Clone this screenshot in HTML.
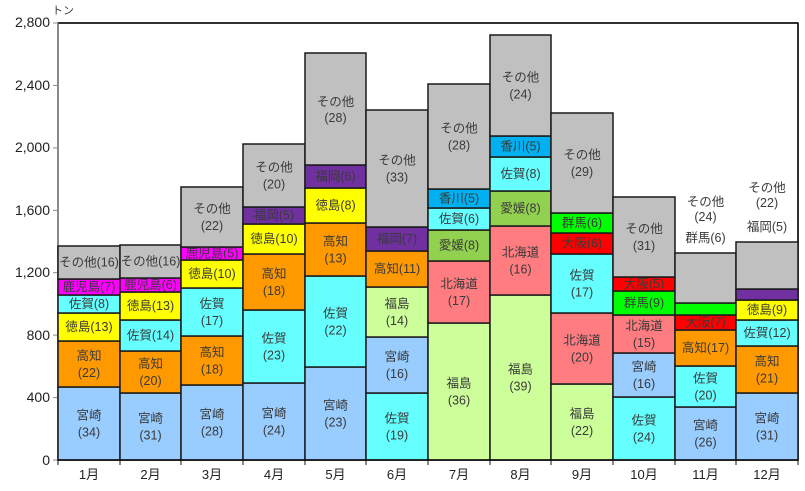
<!DOCTYPE html>
<html><head><meta charset="utf-8"><style>
html,body{margin:0;padding:0;background:#fff}
svg{display:block}
text{font-family:"Liberation Sans","Noto Sans CJK JP",sans-serif;font-size:12.5px;fill:#3a3a3a;text-anchor:middle}
.y{text-anchor:end;font-size:14px;fill:#222}
.x{font-size:13px;fill:#222}
rect{stroke:#1a1a1a;stroke-width:1.5}
</style></head><body>
<svg width="805" height="491" viewBox="0 0 805 491" xmlns="http://www.w3.org/2000/svg">
<rect x="58" y="23" width="740" height="437" fill="#fff" stroke="none"/>
<line x1="58" y1="23" x2="798" y2="23" stroke="#111" stroke-width="1.5"/>
<line x1="798" y1="23" x2="798" y2="460" stroke="#111" stroke-width="1.5"/>
<line x1="58" y1="23" x2="58" y2="460" stroke="#888" stroke-width="1"/>
<text x="52" y="14" style="text-anchor:start;font-size:11px">トン</text>
<g class="yl">
<text class="y" x="50" y="465">0</text>
<text class="y" x="50" y="402">400</text>
<text class="y" x="50" y="340">800</text>
<text class="y" x="50" y="277">1,200</text>
<text class="y" x="50" y="215">1,600</text>
<text class="y" x="50" y="152">2,000</text>
<text class="y" x="50" y="90">2,400</text>
<text class="y" x="50" y="27">2,800</text>
</g>
<g stroke="#888"><line x1="53" y1="460" x2="58" y2="460"/><line x1="53" y1="397.6" x2="58" y2="397.6"/><line x1="53" y1="335.1" x2="58" y2="335.1"/><line x1="53" y1="272.7" x2="58" y2="272.7"/><line x1="53" y1="210.3" x2="58" y2="210.3"/><line x1="53" y1="147.9" x2="58" y2="147.9"/><line x1="53" y1="85.4" x2="58" y2="85.4"/><line x1="53" y1="23" x2="58" y2="23"/></g>

<!-- M1 -->
<rect x="58" y="387" width="62" height="73" fill="#99CCFF"/>
<rect x="58" y="341" width="62" height="46" fill="#FF9900"/>
<rect x="58" y="313" width="62" height="28" fill="#FFFF00"/>
<rect x="58" y="295" width="62" height="18" fill="#66FFFF"/>
<rect x="58" y="279" width="62" height="16" fill="#FF00FF"/>
<rect x="58" y="246" width="62" height="33" fill="#C0C0C0"/>
<text x="89" y="419.5">宮崎</text><text x="89" y="436.5">(34)</text>
<text x="89" y="360">高知</text><text x="89" y="377">(22)</text>
<text x="89" y="331">徳島(13)</text>
<text x="89" y="308">佐賀(8)</text>
<text x="89" y="291">鹿児島(7)</text>
<text x="89" y="266.5">その他(16)</text>
<!-- M2 -->
<rect x="120" y="393" width="61" height="67" fill="#99CCFF"/>
<rect x="120" y="351" width="61" height="42" fill="#FF9900"/>
<rect x="120" y="320" width="61" height="31" fill="#66FFFF"/>
<rect x="120" y="292" width="61" height="28" fill="#FFFF00"/>
<rect x="120" y="278" width="61" height="14" fill="#FF00FF"/>
<rect x="120" y="245" width="61" height="33" fill="#C0C0C0"/>
<text x="150.5" y="422.5">宮崎</text><text x="150.5" y="439.5">(31)</text>
<text x="150.5" y="368">高知</text><text x="150.5" y="385">(20)</text>
<text x="150.5" y="339.5">佐賀(14)</text>
<text x="150.5" y="310">徳島(13)</text>
<text x="150.5" y="289">鹿児島(6)</text>
<text x="150.5" y="265.5">その他(16)</text>
<!-- M3 -->
<rect x="181" y="385" width="62" height="75" fill="#99CCFF"/>
<rect x="181" y="336" width="62" height="49" fill="#FF9900"/>
<rect x="181" y="288" width="62" height="48" fill="#66FFFF"/>
<rect x="181" y="260" width="62" height="28" fill="#FFFF00"/>
<rect x="181" y="247" width="62" height="13" fill="#FF00FF"/>
<rect x="181" y="187" width="62" height="60" fill="#C0C0C0"/>
<text x="212" y="418.5">宮崎</text><text x="212" y="435.5">(28)</text>
<text x="212" y="356.5">高知</text><text x="212" y="373.5">(18)</text>
<text x="212" y="308">佐賀</text><text x="212" y="325">(17)</text>
<text x="212" y="278">徳島(10)</text>
<text x="212" y="257.5">鹿児島(5)</text>
<text x="212" y="213">その他</text><text x="212" y="230">(22)</text>
<!-- M4 -->
<rect x="243" y="383" width="62" height="77" fill="#99CCFF"/>
<rect x="243" y="310" width="62" height="73" fill="#66FFFF"/>
<rect x="243" y="254" width="62" height="56" fill="#FF9900"/>
<rect x="243" y="224" width="62" height="30" fill="#FFFF00"/>
<rect x="243" y="207" width="62" height="17" fill="#7030A0"/>
<rect x="243" y="144" width="62" height="63" fill="#C0C0C0"/>
<text x="274" y="417.5">宮崎</text><text x="274" y="434.5">(24)</text>
<text x="274" y="342.5">佐賀</text><text x="274" y="359.5">(23)</text>
<text x="274" y="278">高知</text><text x="274" y="295">(18)</text>
<text x="274" y="243">徳島(10)</text>
<text x="274" y="219.5">福岡(5)</text>
<text x="274" y="171.5">その他</text><text x="274" y="188.5">(20)</text>
<!-- M5 -->
<rect x="305" y="367" width="61" height="93" fill="#99CCFF"/>
<rect x="305" y="276" width="61" height="91" fill="#66FFFF"/>
<rect x="305" y="223" width="61" height="53" fill="#FF9900"/>
<rect x="305" y="188" width="61" height="35" fill="#FFFF00"/>
<rect x="305" y="165" width="61" height="23" fill="#7030A0"/>
<rect x="305" y="53" width="61" height="112" fill="#C0C0C0"/>
<text x="335.5" y="409.5">宮崎</text><text x="335.5" y="426.5">(23)</text>
<text x="335.5" y="317.5">佐賀</text><text x="335.5" y="334.5">(22)</text>
<text x="335.5" y="245.5">高知</text><text x="335.5" y="262.5">(13)</text>
<text x="335.5" y="209.5">徳島(8)</text>
<text x="335.5" y="180.5">福岡(6)</text>
<text x="335.5" y="106">その他</text><text x="335.5" y="122">(28)</text>
<!-- M6 -->
<rect x="366" y="393" width="62" height="67" fill="#66FFFF"/>
<rect x="366" y="337" width="62" height="56" fill="#99CCFF"/>
<rect x="366" y="287" width="62" height="50" fill="#CCFF99"/>
<rect x="366" y="251" width="62" height="36" fill="#FF9900"/>
<rect x="366" y="227" width="62" height="24" fill="#7030A0"/>
<rect x="366" y="110" width="62" height="117" fill="#C0C0C0"/>
<text x="397" y="422.5">佐賀</text><text x="397" y="439.5">(19)</text>
<text x="397" y="361">宮崎</text><text x="397" y="378">(16)</text>
<text x="397" y="308">福島</text><text x="397" y="325">(14)</text>
<text x="397" y="273">高知(11)</text>
<text x="397" y="243">福岡(7)</text>
<text x="397" y="164.5">その他</text><text x="397" y="181.5">(33)</text>
<!-- M7 -->
<rect x="428" y="323" width="62" height="137" fill="#CCFF99"/>
<rect x="428" y="261" width="62" height="62" fill="#FF7C80"/>
<rect x="428" y="230" width="62" height="31" fill="#92D050"/>
<rect x="428" y="208" width="62" height="22" fill="#66FFFF"/>
<rect x="428" y="189" width="62" height="19" fill="#00B0F0"/>
<rect x="428" y="84" width="62" height="105" fill="#C0C0C0"/>
<text x="459" y="387.5">福島</text><text x="459" y="404.5">(36)</text>
<text x="459" y="288">北海道</text><text x="459" y="305">(17)</text>
<text x="459" y="249.5">愛媛(8)</text>
<text x="459" y="223">佐賀(6)</text>
<text x="459" y="202.5">香川(5)</text>
<text x="459" y="132.5">その他</text><text x="459" y="149.5">(28)</text>
<!-- M8 -->
<rect x="490" y="295" width="61" height="165" fill="#CCFF99"/>
<rect x="490" y="226" width="61" height="69" fill="#FF7C80"/>
<rect x="490" y="191" width="61" height="35" fill="#92D050"/>
<rect x="490" y="157" width="61" height="34" fill="#66FFFF"/>
<rect x="490" y="136" width="61" height="21" fill="#00B0F0"/>
<rect x="490" y="35" width="61" height="101" fill="#C0C0C0"/>
<text x="520.5" y="373.5">福島</text><text x="520.5" y="390.5">(39)</text>
<text x="520.5" y="256.5">北海道</text><text x="520.5" y="273.5">(16)</text>
<text x="520.5" y="212.5">愛媛(8)</text>
<text x="520.5" y="178">佐賀(8)</text>
<text x="520.5" y="150.5">香川(5)</text>
<text x="520.5" y="81.5">その他</text><text x="520.5" y="98.5">(24)</text>
<!-- M9 -->
<rect x="551" y="384" width="62" height="76" fill="#CCFF99"/>
<rect x="551" y="313" width="62" height="71" fill="#FF7C80"/>
<rect x="551" y="254" width="62" height="59" fill="#66FFFF"/>
<rect x="551" y="233" width="62" height="21" fill="#FF0000"/>
<rect x="551" y="213" width="62" height="20" fill="#00FF00"/>
<rect x="551" y="113" width="62" height="100" fill="#C0C0C0"/>
<text x="582" y="418">福島</text><text x="582" y="435">(22)</text>
<text x="582" y="344.5">北海道</text><text x="582" y="361.5">(20)</text>
<text x="582" y="279.5">佐賀</text><text x="582" y="296.5">(17)</text>
<text x="582" y="247.5">大阪(6)</text>
<text x="582" y="227">群馬(6)</text>
<text x="582" y="159">その他</text><text x="582" y="176">(29)</text>
<!-- M10 -->
<rect x="613" y="397" width="62" height="63" fill="#66FFFF"/>
<rect x="613" y="353" width="62" height="44" fill="#99CCFF"/>
<rect x="613" y="315" width="62" height="38" fill="#FF7C80"/>
<rect x="613" y="291" width="62" height="24" fill="#00FF00"/>
<rect x="613" y="277" width="62" height="14" fill="#FF0000"/>
<rect x="613" y="197" width="62" height="80" fill="#C0C0C0"/>
<text x="644" y="424.5">佐賀</text><text x="644" y="441.5">(24)</text>
<text x="644" y="371">宮崎</text><text x="644" y="388">(16)</text>
<text x="644" y="330">北海道</text><text x="644" y="347">(15)</text>
<text x="644" y="307">群馬(9)</text>
<text x="644" y="288">大阪(5)</text>
<text x="644" y="233">その他</text><text x="644" y="250">(31)</text>
<!-- M11 -->
<rect x="675" y="407" width="61" height="53" fill="#99CCFF"/>
<rect x="675" y="366" width="61" height="41" fill="#66FFFF"/>
<rect x="675" y="330" width="61" height="36" fill="#FF9900"/>
<rect x="675" y="315" width="61" height="15" fill="#FF0000"/>
<rect x="675" y="303" width="61" height="12" fill="#00FF00"/>
<rect x="675" y="253" width="61" height="50" fill="#C0C0C0"/>
<text x="705.5" y="429.5">宮崎</text><text x="705.5" y="446.5">(26)</text>
<text x="705.5" y="382.5">佐賀</text><text x="705.5" y="399.5">(20)</text>
<text x="705.5" y="352">高知(17)</text>
<text x="705.5" y="326.5">大阪(7)</text>
<text x="705.5" y="206">その他</text><text x="705.5" y="221">(24)</text>
<text x="705.5" y="242">群馬(6)</text>
<!-- M12 -->
<rect x="736" y="393" width="62" height="67" fill="#99CCFF"/>
<rect x="736" y="346" width="62" height="47" fill="#FF9900"/>
<rect x="736" y="320" width="62" height="26" fill="#66FFFF"/>
<rect x="736" y="300" width="62" height="20" fill="#FFFF00"/>
<rect x="736" y="289" width="62" height="11" fill="#7030A0"/>
<rect x="736" y="242" width="62" height="47" fill="#C0C0C0"/>
<text x="767" y="422.5">宮崎</text><text x="767" y="439.5">(31)</text>
<text x="767" y="365.5">高知</text><text x="767" y="382.5">(21)</text>
<text x="767" y="337">佐賀(12)</text>
<text x="767" y="314">徳島(9)</text>
<text x="767" y="192">その他</text><text x="767" y="207">(22)</text>
<text x="767" y="231">福岡(5)</text>

<line x1="58" y1="460" x2="798" y2="460" stroke="#111" stroke-width="1.5"/>
<g stroke="#111"><line x1="58" y1="460" x2="58" y2="465"/><line x1="120" y1="460" x2="120" y2="465"/><line x1="181" y1="460" x2="181" y2="465"/><line x1="243" y1="460" x2="243" y2="465"/><line x1="305" y1="460" x2="305" y2="465"/><line x1="366" y1="460" x2="366" y2="465"/><line x1="428" y1="460" x2="428" y2="465"/><line x1="490" y1="460" x2="490" y2="465"/><line x1="551" y1="460" x2="551" y2="465"/><line x1="613" y1="460" x2="613" y2="465"/><line x1="675" y1="460" x2="675" y2="465"/><line x1="736" y1="460" x2="736" y2="465"/><line x1="798" y1="460" x2="798" y2="465"/></g>
<text class="x" x="89" y="479">1月</text>
<text class="x" x="150.5" y="479">2月</text>
<text class="x" x="212" y="479">3月</text>
<text class="x" x="274" y="479">4月</text>
<text class="x" x="335.5" y="479">5月</text>
<text class="x" x="397" y="479">6月</text>
<text class="x" x="459" y="479">7月</text>
<text class="x" x="520.5" y="479">8月</text>
<text class="x" x="582" y="479">9月</text>
<text class="x" x="644" y="479">10月</text>
<text class="x" x="705.5" y="479">11月</text>
<text class="x" x="767" y="479">12月</text>
</svg>
</body></html>
